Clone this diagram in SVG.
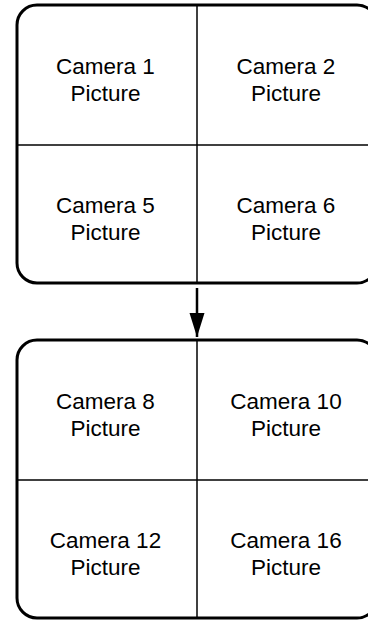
<svg xmlns="http://www.w3.org/2000/svg" width="368" height="620" viewBox="0 0 368 620">
<style>
.frame{fill:#fff;stroke:#000;stroke-width:3}
.div{stroke:#000;stroke-width:1.5;fill:none}
.t{font-family:"Liberation Sans",Arial,sans-serif;font-size:22.5px;fill:#000;text-anchor:middle}
.conn{stroke:#000;stroke-width:2.5;fill:none}
</style>
<defs>
<marker id="ah" markerWidth="24" markerHeight="16" refX="24" refY="8" orient="auto" markerUnits="userSpaceOnUse" viewBox="0 0 24 16">
<path d="M0,0.5 L24,8 L0,15.5 Z" fill="#000"/>
</marker>
</defs>
<g id="screen1">
<rect class="frame" x="17" y="5" width="360" height="278" rx="20" ry="20"/>
<line class="div" x1="197" y1="5" x2="197" y2="283"/>
<line class="div" x1="17" y1="145" x2="377" y2="145"/>
</g>
<g id="cam1"><text class="t" x="105.5" y="74">Camera 1</text><text class="t" x="105.5" y="101">Picture</text></g>
<g id="cam2"><text class="t" x="286" y="74">Camera 2</text><text class="t" x="286" y="101">Picture</text></g>
<g id="cam5"><text class="t" x="105.5" y="213">Camera 5</text><text class="t" x="105.5" y="240">Picture</text></g>
<g id="cam6"><text class="t" x="286" y="213">Camera 6</text><text class="t" x="286" y="240">Picture</text></g>
<g id="screen2">
<rect class="frame" x="17" y="340" width="360" height="278" rx="20" ry="20"/>
<line class="div" x1="197" y1="340" x2="197" y2="618"/>
<line class="div" x1="17" y1="480" x2="377" y2="480"/>
</g>
<g id="cam8"><text class="t" x="105.5" y="409">Camera 8</text><text class="t" x="105.5" y="436">Picture</text></g>
<g id="cam10"><text class="t" x="286" y="409">Camera 10</text><text class="t" x="286" y="436">Picture</text></g>
<g id="cam12"><text class="t" x="105.5" y="548">Camera 12</text><text class="t" x="105.5" y="575">Picture</text></g>
<g id="cam16"><text class="t" x="286" y="548">Camera 16</text><text class="t" x="286" y="575">Picture</text></g>
<g id="connectors">
<line class="conn" x1="197" y1="288" x2="197" y2="337" marker-end="url(#ah)"/>
</g>
</svg>
